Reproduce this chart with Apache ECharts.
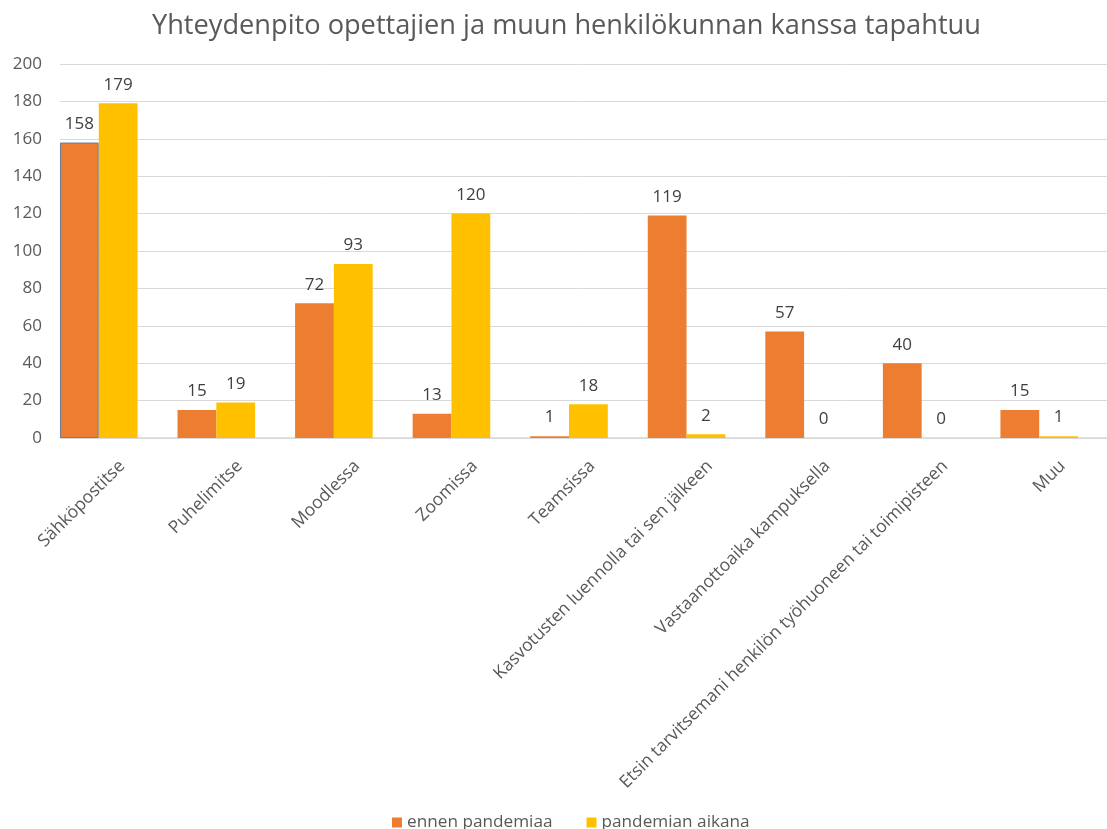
<!DOCTYPE html>
<html>
<head>
<meta charset="utf-8">
<script src="https://cdn.jsdelivr.net/npm/echarts@6/dist/echarts.min.js"></script>
<style>
  html, body { margin: 0; padding: 0; background: #fff; }
  #chart { width: 1107px; height: 829px; }
</style>
</head>
<body>
<div id="chart"></div>
<script>
var categories = [
  "Sähköpostitse",
  "Puhelimitse",
  "Moodlessa",
  "Zoomissa",
  "Teamsissa",
  "Kasvotusten luennolla tai sen jälkeen",
  "Vastaanottoaika kampuksella",
  "Etsin tarvitsemani henkilön työhuoneen tai toimipisteen",
  "Muu"
];
var ennenPandemiaa = [158, 15, 72, 13, 1, 119, 57, 40, 15];
var pandemianAikana = [179, 19, 93, 120, 18, 2, 0, 0, 1];

var font = "Open Sans";
var grey = "#595959";

// the first bar has a thin selection outline in the original
var ennenData = ennenPandemiaa.map(function (v, i) {
  return i === 0 ? { value: v, itemStyle: { borderColor: "#6b7c98", borderWidth: 1 } } : v;
});

var valueLabel = { show: true, position: "top", distance: 10, fontFamily: font, fontSize: 17, color: "#404040" };

var chart = echarts.init(document.getElementById("chart"));
chart.setOption({
  animation: false,
  title: {
    text: "Yhteydenpito opettajien ja muun henkilökunnan kanssa tapahtuu",
    left: 147,
    top: 8,
    textStyle: { fontFamily: font, fontSize: 27.2, fontWeight: "normal", color: grey }
  },
  legend: {
    bottom: -7,
    left: 387,
    itemWidth: 10,
    itemHeight: 10,
    itemGap: 34,
    icon: "rect",
    textStyle: { fontFamily: font, fontSize: 17.2, color: grey }
  },
  grid: [
    { left: 40, right: 9, top: 64, bottom: 391 },
    { left: 60, right: 0, top: 64, bottom: 391 }
  ],
  xAxis: [
    {
      type: "category",
      gridIndex: 0,
      data: categories,
      axisLine: { show: false },
      axisTick: { show: false },
      axisLabel: {
        rotate: 45,
        interval: 0,
        margin: 2,
        align: "right",
        verticalAlign: "top",
        lineHeight: 66,
        fontFamily: font,
        fontSize: 17.5,
        color: grey
      }
    },
    {
      type: "value",
      gridIndex: 1,
      axisLine: { show: true, lineStyle: { color: "#d9d9d9", width: 1.5 } },
      axisTick: { show: false },
      axisLabel: { show: false },
      splitLine: { show: false }
    }
  ],
  yAxis: [
    {
      type: "value",
      gridIndex: 0,
      min: 0,
      max: 200,
      interval: 20,
      axisLine: { show: false },
      axisTick: { show: false },
      splitLine: { show: false },
      axisLabel: { fontFamily: font, fontSize: 17, color: grey, margin: -2 }
    },
    {
      type: "value",
      gridIndex: 1,
      min: 0,
      max: 200,
      interval: 20,
      axisLine: { show: false },
      axisTick: { show: false },
      axisLabel: { show: false },
      splitLine: { lineStyle: { color: "#d9d9d9", width: 1 } }
    }
  ],
  series: [
    {
      name: "ennen pandemiaa",
      type: "bar",
      xAxisIndex: 0,
      yAxisIndex: 0,
      data: ennenData,
      barGap: "0%",
      barCategoryGap: "34%",
      itemStyle: { color: "#ED7D31" },
      label: valueLabel
    },
    {
      name: "pandemian aikana",
      type: "bar",
      xAxisIndex: 0,
      yAxisIndex: 0,
      data: pandemianAikana,
      itemStyle: { color: "#FFC000" },
      label: valueLabel
    }
  ]
});
</script>
</body>
</html>
